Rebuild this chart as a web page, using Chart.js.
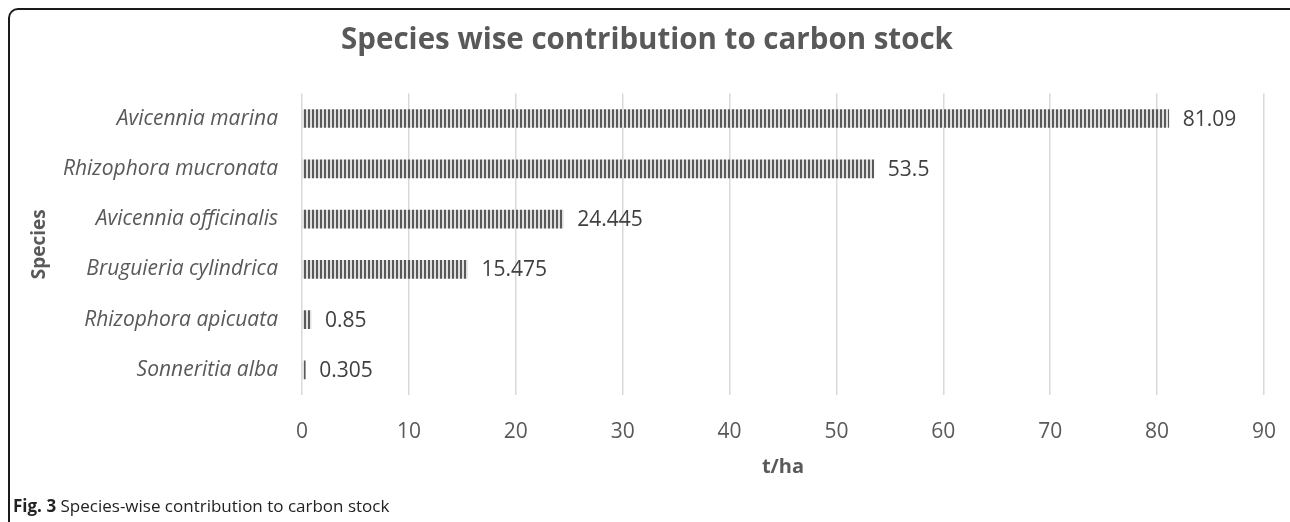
<!DOCTYPE html>
<html>
<head>
<meta charset="utf-8">
<script src="https://cdn.jsdelivr.net/npm/chart.js@4.4.1/dist/chart.umd.min.js"></script>
<style>
  html, body { margin: 0; padding: 0; background: #fff; }
  #wrap { position: relative; width: 1290px; height: 522px; overflow: hidden; }
  #frame { position: absolute; left: 8px; top: 8px; width: 1300px; height: 600px;
           border-left: 2px solid #1a1a1a; border-top: 2px solid #1a1a1a; border-top-left-radius: 10px; }
  #caption { position: absolute; left: 13px; top: 494px; font-family: "Open Sans", sans-serif;
             font-size: 17px; color: #222; white-space: nowrap; }
  #caption b { font-weight: 700; }
  canvas { position: absolute; left: 0; top: 0; }
</style>
</head>
<body>
<div id="wrap">
  <canvas id="c" width="1290" height="522"></canvas>
  <div id="frame"></div>
  <div id="caption"><b>Fig. 3</b> Species-wise contribution to carbon stock</div>
</div>
<script>
// Species and their carbon stock (t/ha)
const species = [
  'Avicennia marina',
  'Rhizophora mucronata',
  'Avicennia officinalis',
  'Bruguieria cylindrica',
  'Rhizophora apicuata',
  'Sonneritia alba'
];
const carbonStock = [81.09, 53.5, 24.445, 15.475, 0.85, 0.305];
const valueLabels = ['81.09', '53.5', '24.445', '15.475', '0.85', '0.305'];
const xTicks = [0, 10, 20, 30, 40, 50, 60, 70, 80, 90];

const FONT = '"Open Sans", sans-serif';
const TEXT = '#595959';

// vertical hatch fill for the bars
function stripePattern() {
  const t = document.createElement('canvas');
  t.width = 4; t.height = 4;
  const g = t.getContext('2d');
  g.fillStyle = '#e0e0e0';
  g.fillRect(0, 0, 4, 4);
  g.fillStyle = '#595959';
  g.fillRect(0, 0, 2, 4);
  return g.createPattern(t, 'repeat');
}

const ctx = document.getElementById('c').getContext('2d');

const valueLabelPlugin = {
  id: 'valueLabels',
  afterDatasetsDraw(chart) {
    const c = chart.ctx;
    const meta = chart.getDatasetMeta(0);
    c.save();
    c.font = '21px ' + FONT;
    c.fillStyle = '#404040';
    c.textAlign = 'left';
    c.textBaseline = 'middle';
    meta.data.forEach((bar, i) => {
      c.fillText(valueLabels[i], bar.x + 14, bar.y + 1);
    });
    c.restore();
  }
};

new Chart(ctx, {
  type: 'bar',
  data: {
    labels: species,
    datasets: [{
      data: carbonStock,
      backgroundColor: stripePattern(),
      borderWidth: 0,
      barThickness: 18
    }]
  },
  options: {
    indexAxis: 'y',
    responsive: false,
    animation: false,
    layout: { padding: { left: 30, right: 26, top: 0, bottom: 43 } },
    plugins: {
      legend: { display: false },
      tooltip: { enabled: false },
      title: {
        display: true,
        text: 'Species wise contribution to carbon stock',
        color: TEXT,
        font: { family: FONT, size: 29.5, weight: 'bold', lineHeight: 1.2 },
        padding: { top: 23, bottom: 35 }
      }
    },
    scales: {
      x: {
        min: 0,
        max: 90,
        afterBuildTicks(scale) { scale.ticks = xTicks.map(v => ({ value: v })); },
        afterFit(scale) {
          scale.height = 84;
          scale.paddingLeft = 0;
          scale.paddingRight = 0;
        },
        grid: { color: '#d9d9d9', lineWidth: 1.5, drawTicks: false },
        border: { display: false },
        ticks: { color: TEXT, font: { family: FONT, size: 21 }, padding: 24 },
        title: {
          display: true, text: 't/ha', color: TEXT,
          font: { family: FONT, size: 20, weight: 'bold', lineHeight: 1.2 },
          padding: { top: 0, bottom: 0 }
        }
      },
      y: {
        afterFit(scale) { scale.width = 272; },
        grid: { display: false, drawTicks: false },
        border: { display: false },
        ticks: { color: TEXT, font: { family: FONT, size: 21, style: 'italic' }, padding: 24 },
        title: {
          display: true, text: 'Species', color: TEXT,
          font: { family: FONT, size: 19, weight: 'bold', lineHeight: 1.0 },
          padding: { top: 0, bottom: 0 }
        }
      }
    }
  },
  plugins: [valueLabelPlugin]
});
</script>
</body>
</html>
